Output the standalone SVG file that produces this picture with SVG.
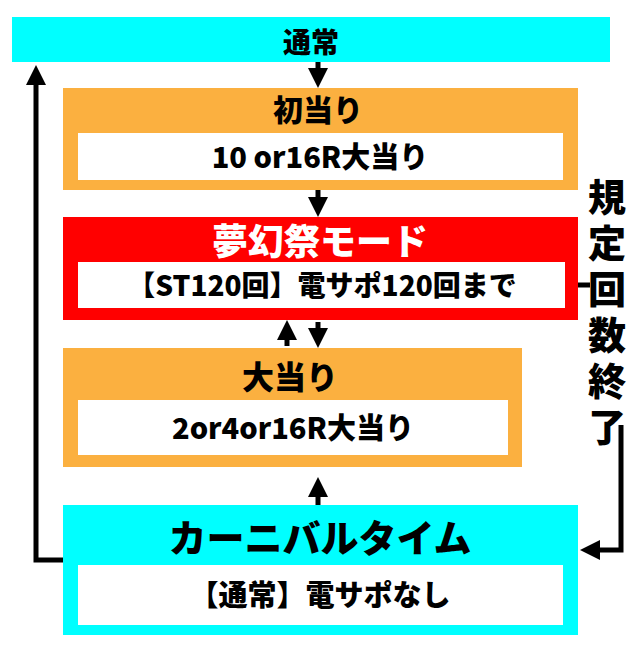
<svg xmlns="http://www.w3.org/2000/svg" width="640" height="653" viewBox="0 0 640 653">
<style>
text{font-family:"Noto Sans CJK JP","Noto Sans",sans-serif;font-weight:900;text-anchor:middle;fill:#000}
.ln{stroke:#000;stroke-width:5;fill:none}
.w{fill:#fff}
</style>
<defs><marker id="a" markerWidth="4" markerHeight="4" refX="2" refY="2" orient="auto" markerUnits="strokeWidth"><path d="M0,0 L4,2 L0,4z" fill="#000"/></marker></defs>
<rect width="640" height="653" fill="#fff"/>
<g id="top"><rect x="12" y="17" width="598" height="45" fill="#00ffff"/><text x="311" y="53" font-size="28">通常</text></g>
<g id="hatsu"><rect x="63" y="88" width="515" height="102" fill="#fbb040"/><text x="318" y="121" font-size="30">初当り</text><rect class="w" x="78" y="133" width="485" height="47"/><text x="320" y="168" font-size="29">10 or16R大当り</text></g>
<g id="mugen"><rect x="63" y="217" width="515" height="103" fill="#ff0000"/><text x="320" y="255" font-size="36" style="fill:#fff">夢幻祭モード</text><rect class="w" x="78" y="262" width="487" height="46"/><text x="322" y="296" font-size="28">【ST120回】電サポ120回まで</text></g>
<g id="oatari"><rect x="63" y="348" width="459" height="119" fill="#fbb040"/><text x="290" y="389" font-size="32">大当り</text><rect class="w" x="78" y="400" width="430" height="55"/><text x="293" y="439" font-size="29">2or4or16R大当り</text></g>
<g id="carnival"><rect x="63" y="505" width="515" height="130" fill="#00ffff"/><text x="320" y="552" font-size="38">カーニバルタイム</text><rect class="w" x="78" y="565" width="485" height="60"/><text x="320" y="606" font-size="29">【通常】電サポなし</text></g>
<g id="label"><text font-size="38" x="607" y="178" writing-mode="vertical-rl" letter-spacing="8" style="text-anchor:start">規定回数終了</text></g>
<g id="connectors">
<line class="ln" x1="318" y1="62" x2="318" y2="78" marker-end="url(#a)"/>
<line class="ln" x1="318" y1="190" x2="318" y2="207" marker-end="url(#a)"/>
<line class="ln" x1="318" y1="322" x2="318" y2="338" marker-end="url(#a)"/>
<line class="ln" x1="287" y1="346" x2="287" y2="330" marker-end="url(#a)"/>
<line class="ln" x1="318" y1="505" x2="318" y2="487" marker-end="url(#a)"/>
<polyline class="ln" points="63,560 36,560 36,75" marker-end="url(#a)"/>
<line class="ln" x1="578" y1="285" x2="590" y2="285"/>
<polyline class="ln" points="621,425 621,550 590,550" marker-end="url(#a)"/>
</g>
</svg>
